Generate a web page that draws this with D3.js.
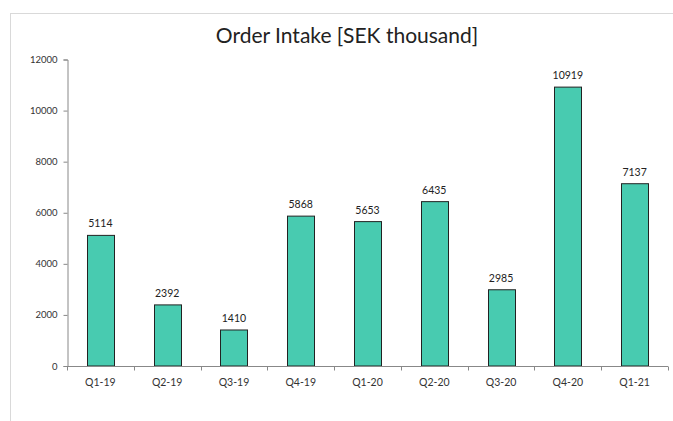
<!DOCTYPE html>
<html><head><meta charset="utf-8">
<script src="https://cdn.jsdelivr.net/npm/d3@7"></script>
<style>body{margin:0;background:#fff}svg{display:block}</style>
</head><body><svg id="c" width="673" height="421"></svg>
<script>
const categories = ["Q1-19","Q2-19","Q3-19","Q4-19","Q1-20","Q2-20","Q3-20","Q4-20","Q1-21"];
const values = [5114,2392,1410,5868,5653,6435,2985,10919,7137];
const yTicks = [0,2000,4000,6000,8000,10000,12000];
const title = "Order Intake [SEK thousand]";

const svg = d3.select("#c");
const font = "Lato, 'Open Sans', sans-serif";
// outer frame
svg.append("rect").attr("x",10.5).attr("y",13.5).attr("width",700).attr("height",460)
  .attr("fill","none").attr("stroke","#d9d9d9").attr("stroke-width",1);

const m = {l:67, r:668, t:59.5, b:366};
const xb = d3.scaleBand().domain(categories).range([m.l,m.r]);
const y = d3.scaleLinear().domain([0,12000]).range([m.b,m.t]);

svg.append("text").attr("x",347).attr("y",43).attr("text-anchor","middle")
  .attr("font-family",font).attr("font-size",21).attr("font-weight",400).attr("fill","#222").text(title);

// y axis
const ya = svg.append("g").attr("transform",`translate(${m.l+0.5},0)`)
  .call(d3.axisLeft(y).tickValues(yTicks).tickFormat(d3.format("d")).tickSize(4).tickPadding(6));
ya.select(".domain").attr("stroke","#888");
ya.selectAll(".tick line").attr("stroke","#888");
ya.selectAll("text").attr("font-family",font).attr("font-size",9.5).attr("fill","#333");

// bars
svg.selectAll("rect.bar").data(values).join("rect").attr("class","bar")
  .attr("x",(d,i)=>Math.round(xb(categories[i])+xb.bandwidth()/2-13.5)+0.5)
  .attr("width",27)
  .attr("y",d=>y(d)).attr("height",d=>m.b-y(d))
  .attr("fill","#48CBB0").attr("stroke","#222").attr("stroke-width",1);

// labels
svg.selectAll("text.lbl").data(values).join("text").attr("class","lbl")
  .attr("x",(d,i)=>xb(categories[i])+xb.bandwidth()/2)
  .attr("y",d=>y(d)-8).attr("text-anchor","middle")
  .attr("font-family",font).attr("font-size",10.5).attr("fill","#222").text(d=>d);

// x axis
const xa = svg.append("g").attr("transform",`translate(0,${m.b+0.5})`);
xa.append("line").attr("x1",m.l).attr("x2",m.r).attr("stroke","#888");
xa.selectAll("line.t").data(categories.concat(["end"])).join("line").attr("class","t")
  .attr("x1",(d,i)=>Math.round(m.l+i*xb.step())+0.5).attr("x2",(d,i)=>Math.round(m.l+i*xb.step())+0.5)
  .attr("y1",0).attr("y2",4).attr("stroke","#888");
xa.selectAll("text").data(categories).join("text")
  .attr("x",d=>xb(d)+xb.bandwidth()/2).attr("y",19).attr("text-anchor","middle")
  .attr("font-family",font).attr("font-size",10.5).attr("fill","#333").text(d=>d);
</script></body></html>
